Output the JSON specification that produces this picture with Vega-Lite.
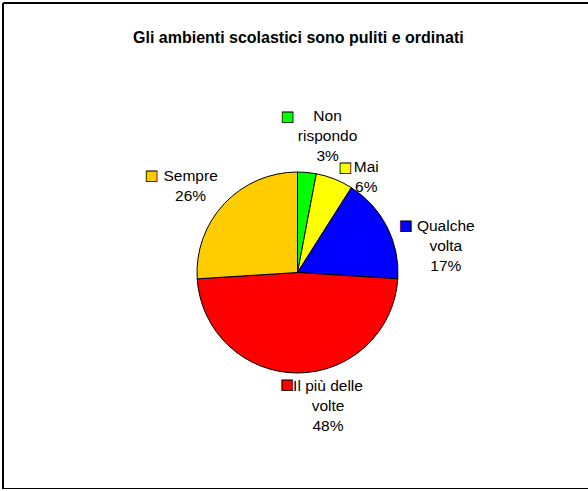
{
  "$schema": "https://vega.github.io/schema/vega-lite/v6.json",
  "width": 600,
  "height": 486,
  "autosize": {"type": "none"},
  "padding": {"left": 3, "top": 3, "right": -15, "bottom": 0},
  "background": "white",
  "config": {"view": {"stroke": "black", "strokeWidth": 2, "strokeDash": [600, 486, 1086, 0]}},
  "title": {
    "text": "Gli ambienti scolastici sono puliti e ordinati",
    "anchor": "start",
    "frame": "group",
    "dx": 130,
    "dy": 2,
    "offset": -57,
    "baseline": "alphabetic",
    "font": "Liberation Sans",
    "fontSize": 16,
    "fontWeight": "bold",
    "color": "black"
  },
  "data": {
    "values": [
      {"cat": "Non rispondo", "pct": 3, "n": 1, "label": "Non\nrispondo\n3%"},
      {"cat": "Mai", "pct": 6, "n": 2, "label": "Mai\n6%"},
      {"cat": "Qualche volta", "pct": 17, "n": 3, "label": "Qualche\nvolta\n17%"},
      {"cat": "Il più delle volte", "pct": 48, "n": 4, "label": "Il più delle\nvolte\n48%"},
      {"cat": "Sempre", "pct": 26, "n": 5, "label": "Sempre\n26%"}
    ]
  },
  "encoding": {
    "theta": {"field": "pct", "type": "quantitative", "stack": true},
    "order": {"field": "n", "type": "quantitative"},
    "color": {
      "field": "cat",
      "type": "nominal",
      "scale": {
        "domain": ["Non rispondo", "Mai", "Qualche volta", "Il più delle volte", "Sempre"],
        "range": ["#00FF00", "#FFFF00", "#0000FF", "#FF0000", "#FFCC00"]
      },
      "legend": null
    }
  },
  "layer": [
    {"mark": {"type": "point", "opacity": 0},
     "encoding": {"x": {"datum": 0, "type": "quantitative", "axis": null}, "y": {"datum": 0, "type": "quantitative", "axis": null}}},
    {"mark": {"type": "arc", "outerRadius": 100.5, "stroke": "black", "strokeWidth": 1, "xOffset": -5.5, "yOffset": 26.5}},
    {"mark": {"type": "text", "radius": 139, "dx": 17, "dy": -18, "xOffset": -5.5, "yOffset": 26.5, "font": "Liberation Sans", "fontSize": 15.5, "lineBreak": "\n", "lineHeight": 20, "align": "center", "baseline": "middle"},
     "encoding": {"color": {"value": "black"}, "detail": {"field": "cat"}, "text": {"condition": {"test": "datum.cat === 'Non rispondo'", "field": "label"}, "value": ""}}},
    {"mark": {"type": "text", "radius": 113.5, "dx": 27, "dy": 0.5, "xOffset": -5.5, "yOffset": 26.5, "font": "Liberation Sans", "fontSize": 15.5, "lineBreak": "\n", "lineHeight": 20, "align": "center", "baseline": "middle"},
     "encoding": {"color": {"value": "black"}, "detail": {"field": "cat"}, "text": {"condition": {"test": "datum.cat === 'Mai'", "field": "label"}, "value": ""}}},
    {"mark": {"type": "text", "radius": 144, "dx": 20, "dy": 19, "xOffset": -5.5, "yOffset": 26.5, "font": "Liberation Sans", "fontSize": 15.5, "lineBreak": "\n", "lineHeight": 20, "align": "center", "baseline": "middle"},
     "encoding": {"color": {"value": "black"}, "detail": {"field": "cat"}, "text": {"condition": {"test": "datum.cat === 'Qualche volta'", "field": "label"}, "value": ""}}},
    {"mark": {"type": "text", "radius": 133.5, "dx": 30.5, "dy": -20, "xOffset": -5.5, "yOffset": 26.5, "font": "Liberation Sans", "fontSize": 15.5, "lineBreak": "\n", "lineHeight": 20, "align": "center", "baseline": "middle"},
     "encoding": {"color": {"value": "black"}, "detail": {"field": "cat"}, "text": {"condition": {"test": "datum.cat === 'Il più delle volte'", "field": "label"}, "value": ""}}},
    {"mark": {"type": "text", "radius": 137, "dx": -7, "dy": -2.5, "xOffset": -5.5, "yOffset": 26.5, "font": "Liberation Sans", "fontSize": 15.5, "lineBreak": "\n", "lineHeight": 20, "align": "center", "baseline": "middle"},
     "encoding": {"color": {"value": "black"}, "detail": {"field": "cat"}, "text": {"condition": {"test": "datum.cat === 'Sempre'", "field": "label"}, "value": ""}}},
    {"mark": {"type": "text", "radius": 139, "dx": -23, "dy": -17.5, "xOffset": -5.5, "yOffset": 26.5, "font": "DejaVu Sans", "fontSize": 14, "align": "center", "baseline": "middle", "stroke": "black", "strokeWidth": 0.8},
     "encoding": {"text": {"condition": {"test": "datum.cat === 'Non rispondo'", "value": "■"}, "value": ""}}},
    {"mark": {"type": "text", "radius": 113.5, "dx": 6, "dy": 1, "xOffset": -5.5, "yOffset": 26.5, "font": "DejaVu Sans", "fontSize": 14, "align": "center", "baseline": "middle", "stroke": "black", "strokeWidth": 0.8},
     "encoding": {"text": {"condition": {"test": "datum.cat === 'Mai'", "value": "■"}, "value": ""}}},
    {"mark": {"type": "text", "radius": 144, "dx": -20, "dy": 19, "xOffset": -5.5, "yOffset": 26.5, "font": "DejaVu Sans", "fontSize": 14, "align": "center", "baseline": "middle", "stroke": "black", "strokeWidth": 0.8},
     "encoding": {"text": {"condition": {"test": "datum.cat === 'Qualche volta'", "value": "■"}, "value": ""}}},
    {"mark": {"type": "text", "radius": 133.5, "dx": -10.5, "dy": -21, "xOffset": -5.5, "yOffset": 26.5, "font": "DejaVu Sans", "fontSize": 14, "align": "center", "baseline": "middle", "stroke": "black", "strokeWidth": 0.8},
     "encoding": {"text": {"condition": {"test": "datum.cat === 'Il più delle volte'", "value": "■"}, "value": ""}}},
    {"mark": {"type": "text", "radius": 137, "dx": -46, "dy": -3, "xOffset": -5.5, "yOffset": 26.5, "font": "DejaVu Sans", "fontSize": 14, "align": "center", "baseline": "middle", "stroke": "black", "strokeWidth": 0.8},
     "encoding": {"text": {"condition": {"test": "datum.cat === 'Sempre'", "value": "■"}, "value": ""}}}
  ]
}
